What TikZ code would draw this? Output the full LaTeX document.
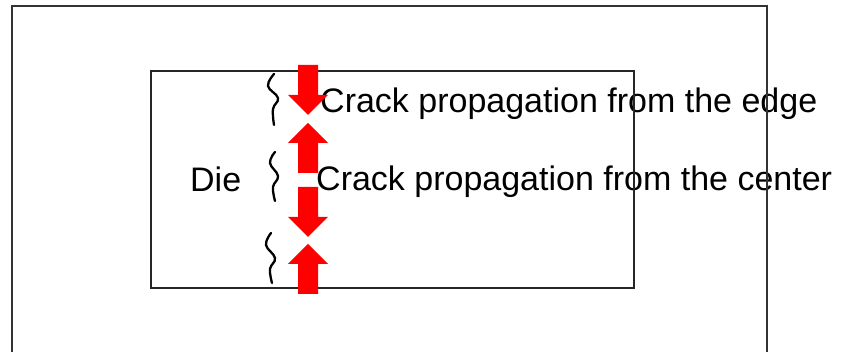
\documentclass[tikz,border=0pt]{standalone}
\usepackage{fontspec}
\setmainfont{Liberation Sans}
\begin{document}
\begin{tikzpicture}[x=1pt,y=-1pt,
  frame/.style={draw=black!80,line width=2.2pt},
  die/.style={draw=black!85,line width=2pt},
  squig/.style={draw=black,line width=2.3pt,line cap=round},
  label/.style={font=\fontsize{34}{40}\selectfont,inner sep=0pt,anchor=base west},
  pics/crackarrow/.style={code={
    \fill[red] (0,0) -- (20,-20) -- (10,-20) -- (10,-50) -- (-10,-50)
      -- (-10,-20) -- (-20,-20) -- cycle;}}]
\useasboundingbox (0,0) rectangle (855,352);

% labels
\node[label] (die) at (190,192) {Die};
\node[label] (edge) at (320,113) {Crack propagation from the edge};
\node[label] (center) at (316,191) {Crack propagation from the center};

% package outline and die
\draw[frame] (12,360) -- (12,6) -- (767,6) -- (767,360);
\draw[die] (151,71) rectangle (634,288);

% crack fronts
\draw[squig] plot[smooth,tension=0.7] coordinates {(274,74) (268,86) (278,98) (273,109) (274,125)};
\draw[squig] plot[smooth,tension=0.7] coordinates {(275,152) (270,163) (278,176) (273,187) (275,201)};
\draw[squig] plot[smooth,tension=0.7] coordinates {(271,233) (266,245) (275,258) (270,269) (272,283)};

% propagation directions
\pic at (308,115) {crackarrow};
\pic[yscale=-1] at (308,123) {crackarrow};
\pic at (308,237) {crackarrow};
\pic[yscale=-1] at (308,244) {crackarrow};
\end{tikzpicture}
\end{document}
